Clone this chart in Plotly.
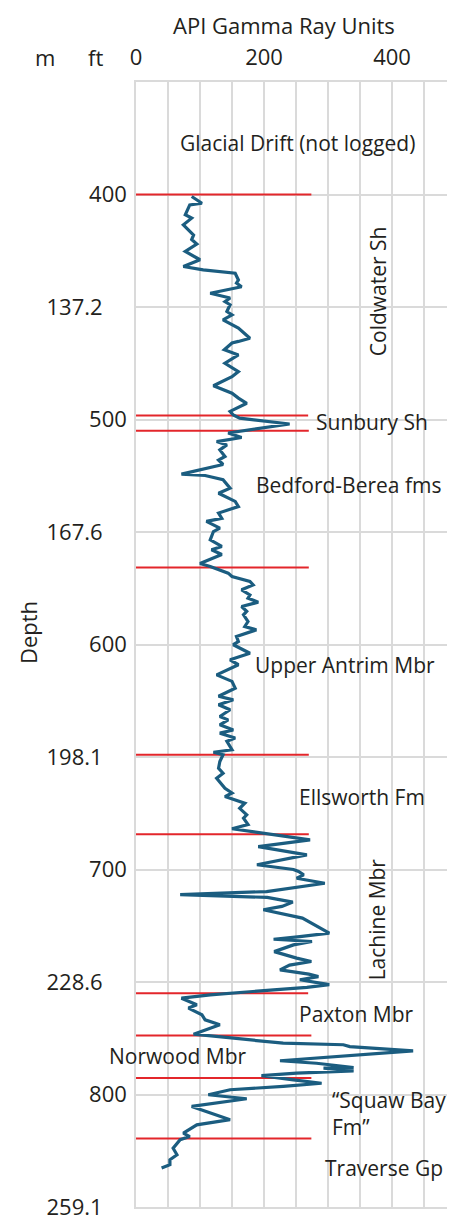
import plotly.graph_objects as go

# ---- data ----
gr_depth_ft = [400.9, 403.9, 404.6, 409.0, 410.5, 413.5, 418.0, 420.0, 422.0, 425.3, 429.0, 432.0, 433.5,
               435.0, 438.0, 439.4, 441.0, 443.9, 446.0, 447.6, 449.0, 452.0, 453.5, 455.7, 459.4, 463.9,
               465.3, 466.0, 469.0, 471.3, 475.0, 478.7, 481.0, 485.0, 488.3, 490.5, 492.8, 496.4, 498.0,
               499.4, 502.0, 503.6, 505.3, 506.0, 508.0, 509.8, 511.3, 513.5, 516.4, 518.0, 520.0, 524.3,
               524.9, 526.8, 530.5, 532.8, 536.4, 538.7, 541.6, 543.9, 545.3, 548.3, 549.8, 553.5, 556.4,
               557.9, 560.0, 564.0, 565.3, 568.3, 569.8, 572.0, 573.5, 575.7, 578.0, 579.4, 581.2, 583.1,
               585.3, 586.8, 589.8, 592.0, 593.5, 596.4, 598.7, 600.1, 603.9, 606.8, 609.0, 613.5, 616.4,
               619.4, 623.0, 624.6, 626.8, 629.0, 632.0, 633.5, 635.7, 638.0, 639.4, 641.6, 643.0, 646.8,
               647.9, 649.0, 652.0, 655.0, 657.2, 659.4, 663.9, 666.0, 667.6, 670.5, 672.8, 675.7, 677.2,
               680.0, 681.9, 683.1, 686.8, 689.8, 693.5, 697.9, 700.0, 700.9, 702.4, 703.9, 706.1, 709.8,
               711.2, 712.4, 714.5, 716.4, 717.9, 721.6, 728.3, 729.8, 731.0, 732.0, 733.5, 736.5, 739.4,
               740.9, 742.5, 744.6, 746.5, 747.6, 749.0, 751.2, 752.4, 753.5, 755.7, 757.2, 760.1, 761.6,
               764.6, 766.8, 769.0, 773.2, 775.0, 777.2, 777.9, 778.7, 780.6, 781.6, 783.9, 785.0, 786.1,
               788.0, 788.3, 789.5, 790.5, 791.6, 793.5, 795.0, 796.4, 797.9, 800.1, 801.9, 805.3, 809.0,
               811.2, 813.5, 817.2, 818.7, 820.1, 823.9, 826.8, 829.0, 831.2, 832.7]
gr_api = [87, 103, 84, 77, 87, 74, 90, 87, 95, 77, 100, 74, 105,
          155, 160, 157, 165, 116, 147, 139, 147, 142, 150, 136, 160, 178,
          160, 150, 138, 160, 139, 160, 150, 121, 150, 160, 173, 147, 152,
          162, 240, 200, 157, 144, 165, 126, 142, 131, 139, 129, 136, 71,
          108, 136, 147, 129, 155, 160, 129, 134, 110, 131, 121, 116, 134,
          118, 134, 100, 116, 144, 150, 178, 183, 165, 178, 175, 191, 165,
          173, 168, 175, 170, 188, 157, 160, 152, 178, 147, 160, 126, 150,
          155, 129, 152, 129, 147, 131, 144, 131, 152, 131, 155, 142, 150,
          121, 136, 131, 129, 136, 126, 139, 150, 139, 170, 162, 173, 168,
          175, 150, 181, 272, 191, 267, 189, 246, 254, 262, 251, 295, 204,
          69, 205, 245, 228, 199, 260, 302, 256, 215, 275, 246, 216, 251,
          274, 240, 225, 270, 285, 256, 302, 267, 215, 116, 71, 95, 82,
          103, 108, 131, 90, 152, 230, 324, 334, 433, 387, 282, 225, 282,
          340, 293, 340, 251, 196, 246, 290, 230, 147, 113, 173, 87, 126,
          147, 95, 74, 84, 69, 58, 64, 53, 53, 40]

tops_ft = [400, 498.2, 505, 565.8, 649, 684.3, 755, 773.8, 792.7, 819.6]
tops_end_api = [274, 269, 270, 270, 270, 270, 269, 274, 274, 274]

unit_names = ["Glacial Drift (not logged)", "Sunbury Sh", "Bedford-Berea fms", "Upper Antrim Mbr",
              "Ellsworth Fm", "Paxton Mbr", "Norwood Mbr", "\u201cSquaw Bay<br>Fm\u201d", "Traverse Gp"]
unit_label_api = [253, 278, 184, 183, 251.6, 251.6, -45.3, 303, 292]
unit_label_ft = [377.3, 501.3, 528.9, 608.9, 667.6, 764, 783.1, 808.4, 832.7]
unit_label_anchor = ["center", "left", "left", "left", "left", "left", "left", "left", "left"]

vert_names = ["Coldwater Sh", "Lachine Mbr"]
vert_label_api = [378, 378]
vert_label_ft = [443, 722.2]

x_grid = [0, 50, 100, 150, 200, 250, 300, 350, 400, 450, 500]
x_ticktext = ["0", "", "", "", "200", "", "", "", "400", "", ""]
ft_grid = [350, 400, 450, 500, 550, 600, 650, 700, 750, 800, 850]
ft_ticktext = ["", "400", "", "500", "", "600", "", "700", "", "800", ""]
m_ticks = [137.16, 167.64, 198.12, 228.6, 259.07]
m_ticktext = ["137.2", "167.6", "198.1", "228.6", "259.1"]

FT_TO_M = 0.3048
ft_range = [850, 350]
api_range = [0, (455 - 136) / 0.64]

# ---- figure ----  (page has an 8 px body margin, so figure coords = page coords - 8)
OFF = 8
W, H = 455 - OFF, 1216 - OFF
L, T = 136 - OFF, 82 - OFF
R = 0
B = H - (1207 - OFF)
FONT = "Open Sans"
TXT = "#231f20"
GRID = "#dadada"
FS = 22
FS_UNIT = 21

fig = go.Figure()

for d, xe in zip(tops_ft, tops_end_api):
    fig.add_trace(go.Scatter(x=[0, xe], y=[d, d], mode="lines",
                             line=dict(color="#e3262b", width=2), hoverinfo="skip", showlegend=False))

fig.add_trace(go.Scatter(x=gr_api, y=gr_depth_ft, mode="lines",
                         line=dict(color="#1b5d80", width=3.2), showlegend=False))

# meter axis helper trace (invisible)
fig.add_trace(go.Scatter(x=[None], y=[None], yaxis="y2", showlegend=False))


def xpap(v):
    return (v - api_range[0]) / (api_range[1] - api_range[0])


def ypap(d):
    return (ft_range[0] - d) / (ft_range[0] - ft_range[1])


for name, xv, yv, anc in zip(unit_names, unit_label_api, unit_label_ft, unit_label_anchor):
    fig.add_annotation(x=xpap(xv), y=ypap(yv), xref="paper", yref="paper", text=name, showarrow=False,
                       xanchor=anc, yanchor="middle", align="left",
                       font=dict(family=FONT, size=FS_UNIT, color=TXT))
for name, xv, yv in zip(vert_names, vert_label_api, vert_label_ft):
    fig.add_annotation(x=xpap(xv), y=ypap(yv), xref="paper", yref="paper", text=name, showarrow=False,
                       textangle=-90, xanchor="center", yanchor="middle",
                       font=dict(family=FONT, size=FS_UNIT, color=TXT))

pw, ph = W - L - R, H - T - B


def px(xp):
    return (xp - OFF - L) / pw


def py(yp):
    return (H - B - (yp - OFF)) / ph


fig.add_annotation(x=px(283.5), y=py(8), xref="paper", yref="paper", text="API Gamma Ray Units",
                   showarrow=False, xanchor="center", yanchor="top",
                   font=dict(family=FONT, size=FS, color=TXT))
fig.add_annotation(x=px(45), y=py(57), xref="paper", yref="paper", text="m",
                   showarrow=False, xanchor="center", yanchor="middle",
                   font=dict(family=FONT, size=FS, color=TXT))
fig.add_annotation(x=px(95), y=py(57), xref="paper", yref="paper", text="ft",
                   showarrow=False, xanchor="center", yanchor="middle",
                   font=dict(family=FONT, size=FS, color=TXT))
fig.add_annotation(x=px(28), y=py(633), xref="paper", yref="paper", text="Depth",
                   showarrow=False, textangle=-90, xanchor="center", yanchor="middle",
                   font=dict(family=FONT, size=FS, color=TXT))

fig.update_layout(
    width=W, height=H,
    margin=dict(l=L, r=R, t=T, b=B, pad=0, autoexpand=False),
    paper_bgcolor="white", plot_bgcolor="white",
    font=dict(family=FONT, size=FS, color=TXT),
    xaxis=dict(range=api_range, side="top", tickmode="array", tickvals=x_grid,
               ticktext=x_ticktext, showgrid=True, gridcolor=GRID, gridwidth=1.6,
               ticks="outside", ticklen=6, tickcolor="rgba(0,0,0,0)", zeroline=False,
               showline=True, linecolor=GRID, linewidth=1.6, mirror=True,
               tickfont=dict(family=FONT, size=FS, color=TXT)),
    yaxis=dict(range=ft_range, tickmode="array", tickvals=ft_grid, ticktext=ft_ticktext,
               showgrid=True, gridcolor=GRID, gridwidth=1.6, zeroline=False,
               ticks="outside", ticklen=3, tickcolor="rgba(0,0,0,0)",
               showline=True, linecolor=GRID, linewidth=1.6, mirror=True,
               tickfont=dict(family=FONT, size=FS, color=TXT)),
    yaxis2=dict(range=[ft_range[0] * FT_TO_M, ft_range[1] * FT_TO_M], overlaying="y", side="left",
                anchor="free", position=0, tickmode="array", tickvals=m_ticks, ticktext=m_ticktext,
                showgrid=False, zeroline=False, showline=False, ticklabeloverflow="allow",
                ticks="outside", ticklen=29, tickcolor="rgba(0,0,0,0)",
                tickfont=dict(family=FONT, size=FS, color=TXT)),
)

fig.write_html("out.html")
